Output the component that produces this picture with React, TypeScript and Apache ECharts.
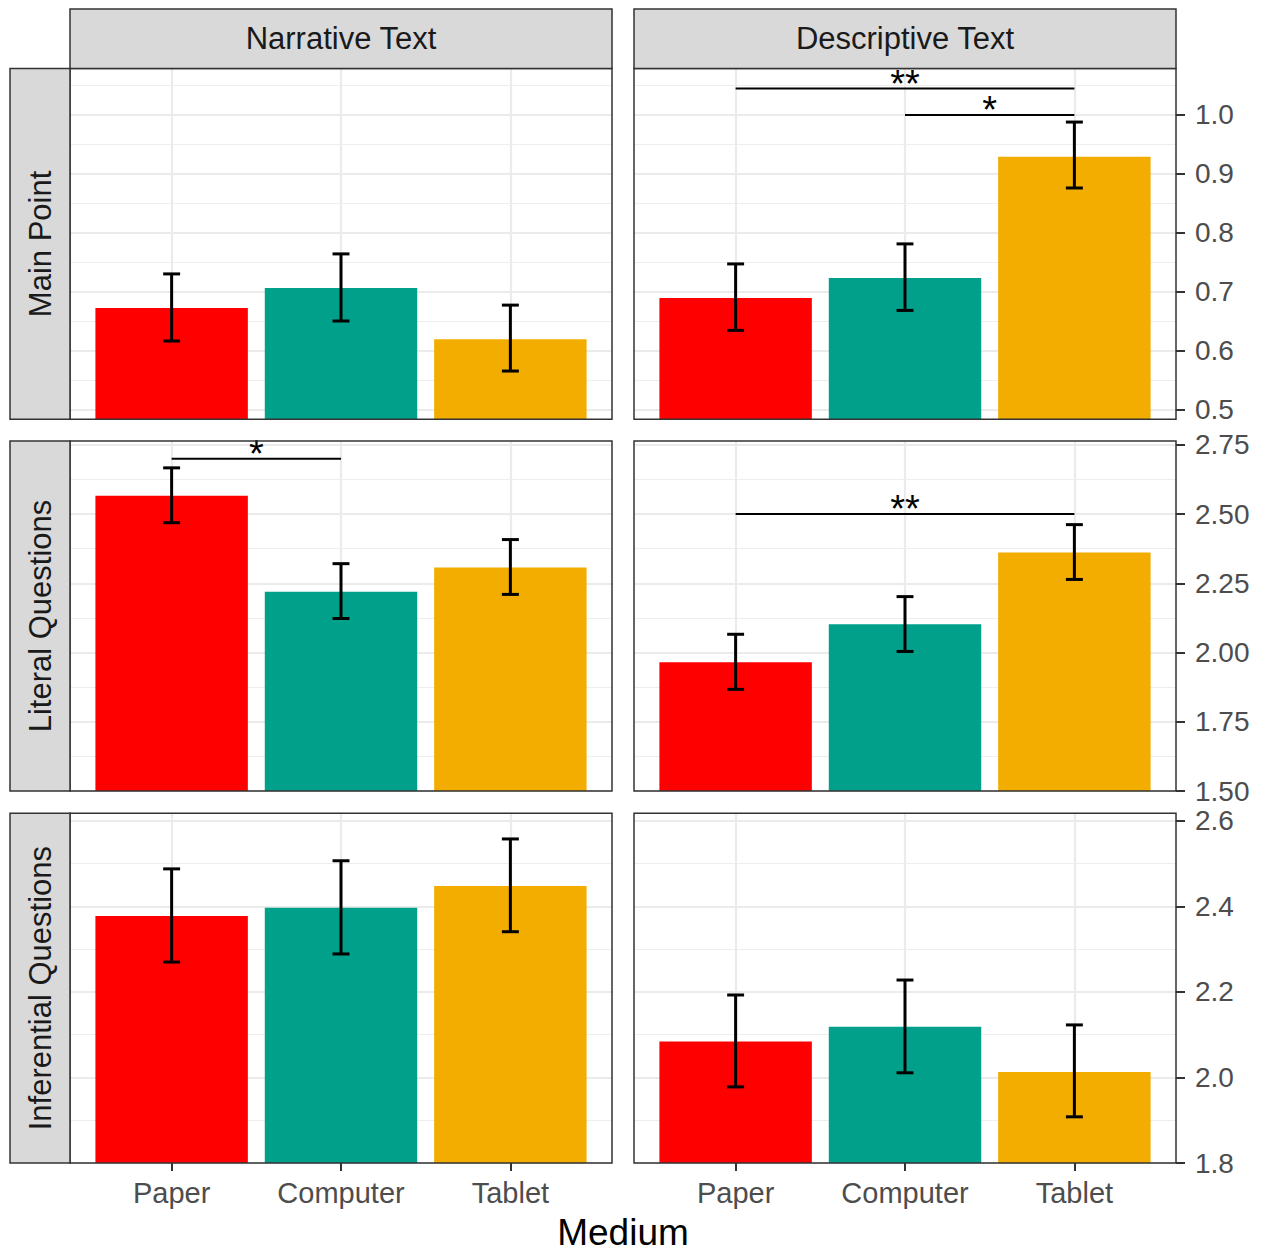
import React, { useEffect, useRef } from 'react';
import * as echarts from 'echarts';

// ---------- data ----------
const MEDIA = ['Paper', 'Computer', 'Tablet'];
const TEXT_TYPES = ['Narrative Text', 'Descriptive Text'];
const MEASURES = ['Main Point', 'Literal Questions', 'Inferential Questions'];
const COLORS = ['#FF0000', '#00A08A', '#F2AD00'];

const MAIN_NARR_MEAN = [0.672, 0.706, 0.619];
const MAIN_NARR_LO = [0.616, 0.65, 0.565];
const MAIN_NARR_HI = [0.73, 0.764, 0.677];
const MAIN_DESC_MEAN = [0.689, 0.723, 0.929];
const MAIN_DESC_LO = [0.634, 0.668, 0.876];
const MAIN_DESC_HI = [0.747, 0.781, 0.988];

const LIT_NARR_MEAN = [2.566, 2.22, 2.307];
const LIT_NARR_LO = [2.469, 2.123, 2.21];
const LIT_NARR_HI = [2.667, 2.321, 2.408];
const LIT_DESC_MEAN = [1.965, 2.102, 2.361];
const LIT_DESC_LO = [1.867, 2.004, 2.264];
const LIT_DESC_HI = [2.066, 2.202, 2.462];

const INF_NARR_MEAN = [2.378, 2.397, 2.448];
const INF_NARR_LO = [2.27, 2.289, 2.341];
const INF_NARR_HI = [2.488, 2.507, 2.558];
const INF_DESC_MEAN = [2.084, 2.119, 2.013];
const INF_DESC_LO = [1.978, 2.011, 1.908];
const INF_DESC_HI = [2.193, 2.228, 2.123];

const SIG_MAIN_NARR: { from: number; to: number; y: number; label: string }[] = [];
const SIG_MAIN_DESC = [
  { from: 0, to: 2, y: 1.045, label: '**' },
  { from: 1, to: 2, y: 1.0, label: '*' },
];
const SIG_LIT_NARR = [{ from: 0, to: 1, y: 2.7, label: '*' }];
const SIG_LIT_DESC = [{ from: 0, to: 2, y: 2.5, label: '**' }];
const SIG_INF_NARR: { from: number; to: number; y: number; label: string }[] = [];
const SIG_INF_DESC: { from: number; to: number; y: number; label: string }[] = [];

const Y_MAJOR_MAIN = [0.5, 0.6, 0.7, 0.8, 0.9, 1.0];
const Y_MINOR_MAIN = [0.55, 0.65, 0.75, 0.85, 0.95, 1.05];
const Y_MAJOR_LIT = [1.5, 1.75, 2.0, 2.25, 2.5, 2.75];
const Y_MINOR_LIT = [1.625, 1.875, 2.125, 2.375, 2.625];
const Y_MAJOR_INF = [1.8, 2.0, 2.2, 2.4, 2.6];
const Y_MINOR_INF = [1.9, 2.1, 2.3, 2.5];
const Y_DECIMALS = [1, 2, 1];
const Y_MIN = [0.483, 1.5, 1.8];
const Y_MAX = [1.079, 2.764, 2.618];

const X_TICKS = [0, 1, 2];

// ---------- layout ----------
const FONT = '"Liberation Sans", Arial, Helvetica, sans-serif';
const COL_LEFT = [70, 634];
const COL_W = 542;
const ROW_TOP = [68.5, 441, 813.3];
const ROW_H = [350.8, 350, 349.7];
const STRIP_TOP = 9;
const STRIP_LEFT = 10;
const BAR_HALF = 0.45;
const CAP_HALF = 0.05;

const PANELS = [
  [
    { mean: MAIN_NARR_MEAN, lo: MAIN_NARR_LO, hi: MAIN_NARR_HI, sig: SIG_MAIN_NARR },
    { mean: MAIN_DESC_MEAN, lo: MAIN_DESC_LO, hi: MAIN_DESC_HI, sig: SIG_MAIN_DESC },
  ],
  [
    { mean: LIT_NARR_MEAN, lo: LIT_NARR_LO, hi: LIT_NARR_HI, sig: SIG_LIT_NARR },
    { mean: LIT_DESC_MEAN, lo: LIT_DESC_LO, hi: LIT_DESC_HI, sig: SIG_LIT_DESC },
  ],
  [
    { mean: INF_NARR_MEAN, lo: INF_NARR_LO, hi: INF_NARR_HI, sig: SIG_INF_NARR },
    { mean: INF_DESC_MEAN, lo: INF_DESC_LO, hi: INF_DESC_HI, sig: SIG_INF_DESC },
  ],
];
const Y_MAJOR = [Y_MAJOR_MAIN, Y_MAJOR_LIT, Y_MAJOR_INF];
const Y_MINOR = [Y_MINOR_MAIN, Y_MINOR_LIT, Y_MINOR_INF];

function buildOption() {
  const grid: any[] = [];
  const xAxis: any[] = [];
  const yAxis: any[] = [];
  const series: any[] = [];
  const graphic: any[] = [];

  for (let r = 0; r < 3; r++) {
    for (let c = 0; c < 2; c++) {
      const g = r * 2 + c;
      const panel = PANELS[r][c];
      grid.push({
        left: COL_LEFT[c],
        top: ROW_TOP[r],
        width: COL_W,
        height: ROW_H[r],
        show: true,
        backgroundColor: '#FFFFFF',
        borderWidth: 0,
        containLabel: false,
      });
      xAxis.push({
        type: 'value',
        gridIndex: g,
        min: -0.6,
        max: 2.6,
        position: 'bottom',
        axisLine: { show: false, onZero: false },
        axisTick: {
          show: r === 2,
          customValues: X_TICKS,
          length: 8,
          lineStyle: { color: '#333333', width: 2 },
        },
        axisLabel: {
          show: r === 2,
          customValues: X_TICKS,
          formatter: (v: number) => MEDIA[Math.round(v)] ?? '',
          fontSize: 29,
          fontFamily: FONT,
          color: '#4D4D4D',
          margin: 15,
        },
        splitLine: { show: true, lineStyle: { color: '#EBEBEB', width: 2.2 } },
      });
      yAxis.push({
        type: 'value',
        gridIndex: g,
        min: Y_MIN[r],
        max: Y_MAX[r],
        position: 'right',
        axisLine: { show: false, onZero: false },
        axisTick: {
          show: c === 1,
          customValues: Y_MAJOR[r],
          length: 9,
          lineStyle: { color: '#333333', width: 2 },
        },
        axisLabel: {
          show: c === 1,
          customValues: Y_MAJOR[r],
          formatter: (v: number) => v.toFixed(Y_DECIMALS[r]),
          fontSize: 28,
          fontFamily: FONT,
          color: '#4D4D4D',
          margin: 19,
        },
        splitLine: { show: true, lineStyle: { color: '#EBEBEB', width: 2.2 } },
      });
      yAxis.push({
        type: 'value',
        gridIndex: g,
        min: Y_MIN[r],
        max: Y_MAX[r],
        position: 'left',
        axisLine: { show: false, onZero: false },
        axisTick: { show: false, customValues: Y_MINOR[r] },
        axisLabel: { show: false, customValues: Y_MINOR[r] },
        splitLine: { show: true, lineStyle: { color: '#EEEEEE', width: 1.1 } },
      });

      const yMin = Y_MIN[r];
      series.push({
        type: 'custom',
        xAxisIndex: g,
        yAxisIndex: 2 * g,
        z: 2,
        data: MEDIA.map((_, i) => [i, panel.mean[i]]),
        renderItem: (params: any, api: any) => {
          const x = api.value(0);
          const y = api.value(1);
          const p1 = api.coord([x - BAR_HALF, y]);
          const p2 = api.coord([x + BAR_HALF, yMin]);
          return {
            type: 'rect',
            shape: { x: p1[0], y: p1[1], width: p2[0] - p1[0], height: p2[1] - p1[1] },
            style: { fill: COLORS[params.dataIndex] },
          };
        },
      });
      series.push({
        type: 'custom',
        xAxisIndex: g,
        yAxisIndex: 2 * g,
        z: 3,
        data: MEDIA.map((_, i) => [i, panel.lo[i], panel.hi[i]]),
        renderItem: (_params: any, api: any) => {
          const x = api.value(0);
          const lo = api.coord([x, api.value(1)]);
          const hi = api.coord([x, api.value(2)]);
          const l = api.coord([x - CAP_HALF, api.value(1)])[0];
          const rr = api.coord([x + CAP_HALF, api.value(1)])[0];
          const st = { stroke: '#000000', lineWidth: 3 };
          return {
            type: 'group',
            children: [
              { type: 'line', shape: { x1: lo[0], y1: lo[1], x2: hi[0], y2: hi[1] }, style: st },
              { type: 'line', shape: { x1: l, y1: lo[1], x2: rr, y2: lo[1] }, style: st },
              { type: 'line', shape: { x1: l, y1: hi[1], x2: rr, y2: hi[1] }, style: st },
            ],
          };
        },
      });
      if (panel.sig.length) {
        const sig = panel.sig;
        series.push({
          type: 'custom',
          xAxisIndex: g,
          yAxisIndex: 2 * g,
          z: 4,
          data: sig.map((s) => [s.from, s.to, s.y]),
          renderItem: (params: any, api: any) => {
            const a = api.coord([api.value(0), api.value(2)]);
            const b = api.coord([api.value(1), api.value(2)]);
            return {
              type: 'group',
              children: [
                {
                  type: 'line',
                  shape: { x1: a[0], y1: a[1], x2: b[0], y2: b[1] },
                  style: { stroke: '#000000', lineWidth: 2 },
                },
                {
                  type: 'text',
                  x: (a[0] + b[0]) / 2,
                  y: a[1] - 5,
                  style: {
                    text: sig[params.dataIndex].label,
                    fontSize: 38,
                    fontFamily: FONT,
                    fill: '#000000',
                    align: 'center',
                    verticalAlign: 'middle',
                  },
                },
              ],
            };
          },
        });
      }

      // panel border
      graphic.push({
        type: 'rect',
        z: 100,
        shape: { x: COL_LEFT[c], y: ROW_TOP[r], width: COL_W, height: ROW_H[r] },
        style: { fill: 'none', stroke: '#333333', lineWidth: 1.5 },
      });
    }
  }

  // top strips
  for (let c = 0; c < 2; c++) {
    graphic.push({
      type: 'rect',
      z: 100,
      shape: { x: COL_LEFT[c], y: STRIP_TOP, width: COL_W, height: ROW_TOP[0] - STRIP_TOP },
      style: { fill: '#D9D9D9', stroke: '#333333', lineWidth: 1.5 },
    });
    graphic.push({
      type: 'text',
      z: 101,
      x: COL_LEFT[c] + COL_W / 2,
      y: (STRIP_TOP + ROW_TOP[0]) / 2,
      style: {
        text: TEXT_TYPES[c],
        fontSize: 31,
        fontFamily: FONT,
        fill: '#1A1A1A',
        align: 'center',
        verticalAlign: 'middle',
      },
    });
  }
  // side strips
  for (let r = 0; r < 3; r++) {
    graphic.push({
      type: 'rect',
      z: 100,
      shape: { x: STRIP_LEFT, y: ROW_TOP[r], width: COL_LEFT[0] - STRIP_LEFT, height: ROW_H[r] },
      style: { fill: '#D9D9D9', stroke: '#333333', lineWidth: 1.5 },
    });
    graphic.push({
      type: 'text',
      z: 101,
      x: (STRIP_LEFT + COL_LEFT[0]) / 2,
      y: ROW_TOP[r] + ROW_H[r] / 2,
      rotation: Math.PI / 2,
      style: {
        text: MEASURES[r],
        fontSize: 31,
        fontFamily: FONT,
        fill: '#1A1A1A',
        align: 'center',
        verticalAlign: 'middle',
      },
    });
  }
  // x-axis title
  graphic.push({
    type: 'text',
    z: 101,
    x: (COL_LEFT[0] + COL_LEFT[1] + COL_W) / 2,
    y: 1232,
    style: {
      text: 'Medium',
      fontSize: 37,
      fontFamily: FONT,
      fill: '#000000',
      align: 'center',
      verticalAlign: 'middle',
    },
  });

  return {
    animation: false,
    backgroundColor: '#FFFFFF',
    grid,
    xAxis,
    yAxis,
    series,
    graphic,
  };
}

export default function App() {
  const ref = useRef<HTMLDivElement>(null);
  useEffect(() => {
    const chart = echarts.init(ref.current!, null, { renderer: 'svg' });
    chart.setOption(buildOption());
    return () => chart.dispose();
  }, []);
  return (
    <div
      ref={ref}
      style={{ position: 'absolute', left: 0, top: 0, width: 1266, height: 1252, background: '#fff' }}
    />
  );
}
